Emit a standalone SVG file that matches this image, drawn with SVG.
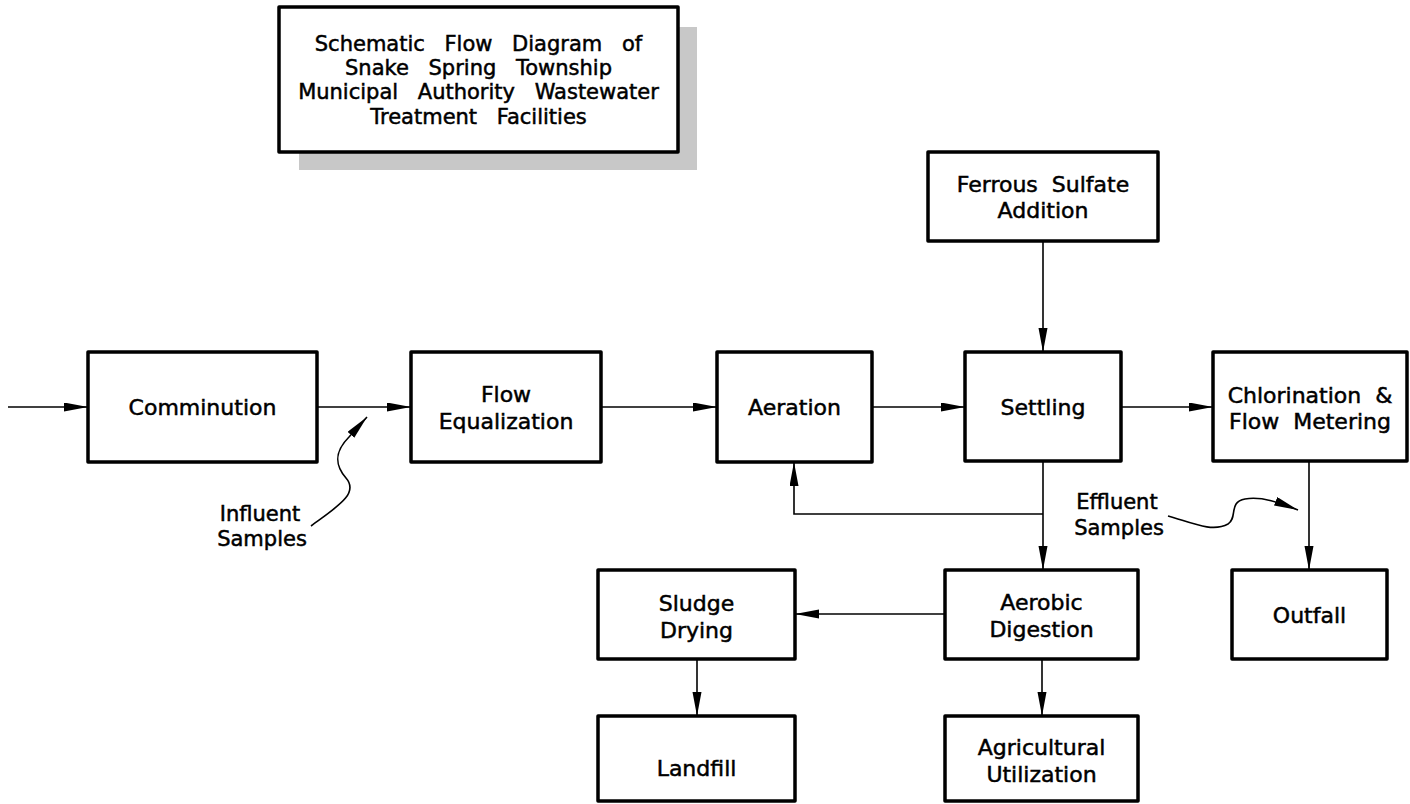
<svg xmlns="http://www.w3.org/2000/svg" width="1410" height="804" viewBox="0 0 1410 804">
<style>
.box{fill:#fff;stroke:#000;stroke-width:3.5;stroke-linejoin:round}
.t{font-family:"DejaVu Sans","Liberation Sans",sans-serif;font-size:22px;fill:#000;stroke:#000;stroke-width:0.5;text-anchor:middle;word-spacing:7px}
.tt{font-family:"DejaVu Sans","Liberation Sans",sans-serif;font-size:21px;fill:#000;stroke:#000;stroke-width:0.5;text-anchor:middle;word-spacing:13px}
.lbl{font-family:"DejaVu Sans","Liberation Sans",sans-serif;font-size:21px;fill:#000;stroke:#000;stroke-width:0.5;text-anchor:middle}
.c{fill:none;stroke:#000;stroke-width:1.6}
</style>
<defs>
<marker id="ah" markerUnits="userSpaceOnUse" markerWidth="26" markerHeight="10" refX="24" refY="4.5" orient="auto">
<path d="M0,0 L24,4.5 L0,9 z" fill="#000"/>
</marker>
</defs>
<rect width="1410" height="804" fill="#fff"/>

<g id="title">
<rect x="299" y="27" width="398" height="143" fill="#c8c8c8"/>
<rect class="box" x="279" y="7" width="399" height="145"/>
<text class="tt" x="478.5" y="51">Schematic Flow Diagram of</text>
<text class="tt" x="478.5" y="75">Snake Spring Township</text>
<text class="tt" x="478.5" y="99">Municipal Authority Wastewater</text>
<text class="tt" x="478.5" y="124">Treatment Facilities</text>
</g>

<g id="connectors">
<line class="c" x1="8" y1="407" x2="88" y2="407" marker-end="url(#ah)"/>
<line class="c" x1="317" y1="407" x2="411" y2="407" marker-end="url(#ah)"/>
<line class="c" x1="601" y1="407" x2="717" y2="407" marker-end="url(#ah)"/>
<line class="c" x1="872" y1="407" x2="965" y2="407" marker-end="url(#ah)"/>
<line class="c" x1="1121" y1="407" x2="1213" y2="407" marker-end="url(#ah)"/>
<line class="c" x1="1043" y1="241" x2="1043" y2="352" marker-end="url(#ah)"/>
<line class="c" x1="1043" y1="461" x2="1043" y2="570" marker-end="url(#ah)"/>
<polyline class="c" points="1043,514 794,514 794,462" marker-end="url(#ah)"/>
<line class="c" x1="1309" y1="461" x2="1309" y2="570" marker-end="url(#ah)"/>
<line class="c" x1="945" y1="614" x2="795" y2="614" marker-end="url(#ah)"/>
<line class="c" x1="697" y1="659" x2="697" y2="716" marker-end="url(#ah)"/>
<line class="c" x1="1042" y1="659" x2="1042" y2="716" marker-end="url(#ah)"/>
<path class="c" d="M311,526 C335,508 360,494 346,478 C333,463 336,450 349,437 L367,417" marker-end="url(#ah)"/>
<path class="c" d="M1168,516 C1190,522 1212,533 1228,524 C1238,518 1228,502 1245,499 C1262,496 1280,503 1298,510" marker-end="url(#ah)"/>
</g>

<g id="comminution">
<rect class="box" x="88" y="352" width="229" height="110"/>
<text class="t" x="202.5" y="415">Comminution</text>
</g>
<g id="flow-equalization">
<rect class="box" x="411" y="352" width="190" height="110"/>
<text class="t" x="506" y="402">Flow</text>
<text class="t" x="506" y="429">Equalization</text>
</g>
<g id="aeration">
<rect class="box" x="717" y="352" width="155" height="110"/>
<text class="t" x="794.5" y="415">Aeration</text>
</g>
<g id="settling">
<rect class="box" x="965" y="352" width="156" height="109"/>
<text class="t" x="1043" y="415">Settling</text>
</g>
<g id="chlorination">
<rect class="box" x="1213" y="352" width="194" height="109"/>
<text class="t" x="1310" y="403">Chlorination &amp;</text>
<text class="t" x="1310" y="429">Flow Metering</text>
</g>
<g id="ferrous-sulfate">
<rect class="box" x="928" y="152" width="230" height="89"/>
<text class="t" x="1043" y="192">Ferrous Sulfate</text>
<text class="t" x="1043" y="218">Addition</text>
</g>
<g id="aerobic-digestion">
<rect class="box" x="945" y="570" width="193" height="89"/>
<text class="t" x="1041.5" y="610">Aerobic</text>
<text class="t" x="1041.5" y="637">Digestion</text>
</g>
<g id="sludge-drying">
<rect class="box" x="598" y="570" width="197" height="89"/>
<text class="t" x="696.5" y="611">Sludge</text>
<text class="t" x="696.5" y="638">Drying</text>
</g>
<g id="landfill">
<rect class="box" x="598" y="716" width="197" height="85"/>
<text class="t" x="696.5" y="776">Landfill</text>
</g>
<g id="agricultural-utilization">
<rect class="box" x="945" y="716" width="193" height="85"/>
<text class="t" x="1041.5" y="755">Agricultural</text>
<text class="t" x="1041.5" y="782">Utilization</text>
</g>
<g id="outfall">
<rect class="box" x="1232" y="570" width="155" height="89"/>
<text class="t" x="1309.5" y="623">Outfall</text>
</g>
<g id="influent-label">
<text class="lbl" x="260" y="521">Influent</text>
<text class="lbl" x="262" y="546">Samples</text>
</g>
<g id="effluent-label">
<text class="lbl" x="1117" y="509">Effluent</text>
<text class="lbl" x="1119" y="535">Samples</text>
</g>
</svg>
